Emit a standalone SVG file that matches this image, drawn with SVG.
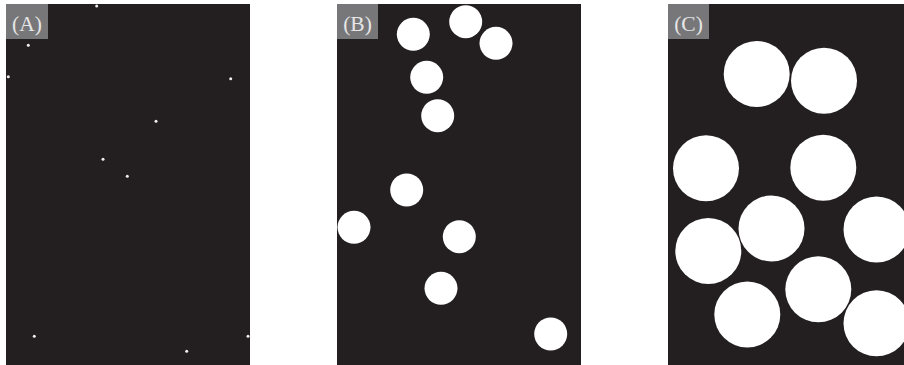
<svg xmlns="http://www.w3.org/2000/svg" width="904" height="365" viewBox="0 0 904 365">
<style>
.bg{fill:#231f20}
.lab{fill:#77777a}
.lt{font-family:"Liberation Serif",serif;font-size:21.5px;fill:#e6e6e6;text-anchor:middle}
.d{fill:#ffffff}
</style>
<defs>
<clipPath id="cA"><rect x="6" y="4" width="244" height="361"/></clipPath>
<clipPath id="cB"><rect x="337" y="4" width="244" height="361"/></clipPath>
<clipPath id="cC"><rect x="668" y="4" width="236" height="361"/></clipPath>
</defs>
<rect width="904" height="365" fill="#ffffff"/>
<g id="panelA" clip-path="url(#cA)">
<rect class="bg" x="6" y="4" width="244" height="361"/>
<g fill="#f0f0f0">
<circle cx="96.7" cy="6" r="1.5"/>
<circle cx="28.3" cy="45.3" r="1.5"/>
<circle cx="8.3" cy="76.7" r="1.5"/>
<circle cx="230.7" cy="78.7" r="1.5"/>
<circle cx="156" cy="121.2" r="1.5"/>
<circle cx="103" cy="159.3" r="1.5"/>
<circle cx="127.3" cy="176.3" r="1.5"/>
<circle cx="34.3" cy="336.3" r="1.5"/>
<circle cx="248" cy="336.3" r="1.5"/>
<circle cx="186.7" cy="351.3" r="1.5"/>
</g>
<rect class="lab" x="6" y="4" width="42" height="35"/>
<text class="lt" x="27" y="30.5">(A)</text>
</g>
<g id="panelB" clip-path="url(#cB)">
<rect class="bg" x="337" y="4" width="244" height="361"/>
<g class="d">
<circle cx="413.3" cy="34.3" r="16.5"/>
<circle cx="465.7" cy="21.7" r="16.5"/>
<circle cx="496" cy="43.3" r="16.5"/>
<circle cx="426.7" cy="77.3" r="16.5"/>
<circle cx="437.7" cy="115.7" r="16.5"/>
<circle cx="406.7" cy="190" r="16.5"/>
<circle cx="354" cy="227.3" r="16.5"/>
<circle cx="459.3" cy="236.7" r="16.5"/>
<circle cx="441" cy="288.3" r="16.5"/>
<circle cx="550.7" cy="334" r="16.5"/>
</g>
<rect class="lab" x="337" y="4" width="41" height="35"/>
<text class="lt" x="357.5" y="30.5">(B)</text>
</g>
<g id="panelC" clip-path="url(#cC)">
<rect class="bg" x="668" y="4" width="236" height="361"/>
<g class="d">
<circle cx="756.7" cy="74" r="33"/>
<circle cx="824" cy="80.7" r="33"/>
<circle cx="706" cy="168.3" r="33"/>
<circle cx="823.3" cy="167.7" r="33"/>
<circle cx="771.5" cy="228.5" r="33"/>
<circle cx="876.5" cy="229.5" r="33"/>
<circle cx="708.3" cy="251" r="33"/>
<circle cx="818.3" cy="289.3" r="33"/>
<circle cx="747.3" cy="314.5" r="33"/>
<circle cx="876.5" cy="323.3" r="33"/>
</g>
<rect class="lab" x="668" y="4" width="41" height="35"/>
<text class="lt" x="688.5" y="30.5">(C)</text>
</g>
</svg>
